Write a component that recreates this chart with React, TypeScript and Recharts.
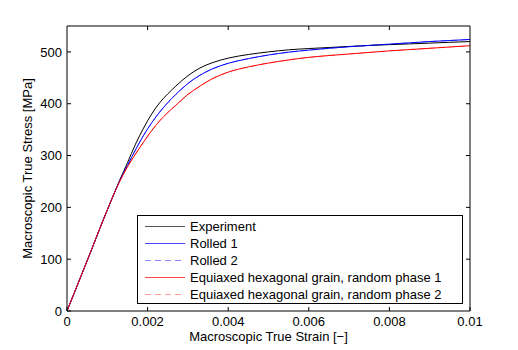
import { LineChart, Line, XAxis, YAxis } from "recharts";

// strain sample positions [-]
const strain = [
  0, 0.0005, 0.001, 0.0013, 0.0015, 0.0017, 0.0019, 0.0021, 0.0023, 0.0025, 0.0027,
  0.003, 0.0033, 0.0036, 0.004, 0.0045, 0.005, 0.0055, 0.006, 0.0065, 0.007,
  0.0075, 0.008, 0.0085, 0.009, 0.0095, 0.01,
];

// stress [MPa]
const experiment = [
  0, 97, 195, 251, 286, 322, 353, 380, 402, 419, 434,
  454, 469, 479, 488, 495, 500, 504, 506.5, 508.5, 510.5,
  512.5, 514, 515.5, 517, 518.5, 520,
];
const rolled1 = [
  0, 97, 195, 250, 281, 311, 339, 363, 384, 402, 418,
  439, 455, 467, 478, 487, 494, 499.5, 503.5, 507, 510,
  512.5, 515, 517.5, 520, 522, 524,
];
const rolled2 = [
  0, 97, 195, 250, 281, 311, 339, 363, 384, 402, 418,
  439, 455, 467, 478, 487, 494, 499.5, 503.5, 507, 510,
  512.5, 515, 517.5, 520, 522, 524,
];
const equiaxed1 = [
  0, 97, 195, 249, 278, 303, 326, 348, 367, 383, 397,
  418, 434, 448, 461, 471, 478.5, 484.5, 489.5, 493, 496,
  499, 502, 504.5, 507, 509.5, 512,
];
const equiaxed2 = [
  0, 97, 195, 249, 278, 303, 326, 348, 367, 383, 397,
  418, 434, 448, 461, 471, 478.5, 484.5, 489.5, 493, 496,
  499, 502, 504.5, 507, 509.5, 512,
];

const xTicks = [0, 0.002, 0.004, 0.006, 0.008, 0.01];
const yTicks = [0, 100, 200, 300, 400, 500];
const X_MAX = 0.01;
const Y_MAX = 550;

const legendItems = [
  { name: "Experiment", color: "#555555", dash: false },
  { name: "Rolled 1", color: "#4646ff", dash: false },
  { name: "Rolled 2", color: "#8c8cff", dash: true },
  { name: "Equiaxed hexagonal grain, random phase 1", color: "#ff4646", dash: false },
  { name: "Equiaxed hexagonal grain, random phase 2", color: "#ff9c9c", dash: true },
];

const data = strain.map((s, i) => ({
  strain: s,
  experiment: experiment[i],
  rolled1: rolled1[i],
  rolled2: rolled2[i],
  equiaxed1: equiaxed1[i],
  equiaxed2: equiaxed2[i],
}));

const W = 518;
const H = 350;
const M = { top: 26, right: 48, bottom: 39, left: 67 };
const PW = W - M.left - M.right;
const PH = H - M.top - M.bottom;

const font = "'Liberation Sans', Arial, Helvetica, sans-serif";
const tickStyle = { fontSize: 13, fill: "#000", fontFamily: font };

function fmtX(v: number) {
  return v === 0 ? "0" : String(Number(v.toFixed(3)));
}

function LegendBox() {
  return (
    <div
      style={{
        position: "absolute", left: 137, top: 215,
        border: "1px solid #000",
        background: "#fff",
        padding: "2px 0",
        fontFamily: font,
        fontSize: 13,
        color: "#000",
        boxSizing: "border-box",
        width: 326,
        height: 89,
      }}
    >
      {legendItems.map((it) => (
        <div key={it.name} style={{ height: 17, display: "flex", alignItems: "center" }}>
          <div
            style={{
              flex: "none", width: 40, height: 1, marginLeft: 7, marginRight: 5,
              background: it.dash
                ? `repeating-linear-gradient(to right, ${it.color} 0 6px, transparent 6px 10px)`
                : it.color,
            }}
          />
          <span style={{ whiteSpace: "nowrap", lineHeight: "17px" }}>{it.name}</span>
        </div>
      ))}
    </div>
  );
}

// top and right edges of the matlab-style box, with inward ticks at the same tick values
function BoxFrame() {
  const right = M.left + PW;
  const top = M.top;
  const sx = (v: number) => M.left + (v / X_MAX) * PW;
  const sy = (v: number) => M.top + PH - (v / Y_MAX) * PH;
  return (
    <svg width={W} height={H} style={{ position: "absolute", left: 0, top: 0, pointerEvents: "none" }}>
      <line x1={M.left} x2={right} y1={top} y2={top} stroke="#000" />
      <line x1={right} x2={right} y1={top} y2={top + PH} stroke="#000" />
      {xTicks.slice(1, -1).map((t) => (
        <line key={"tx" + t} x1={sx(t)} x2={sx(t)} y1={top} y2={top + 4} stroke="#000" />
      ))}
      {yTicks.slice(1).map((t) => (
        <line key={"ty" + t} x1={right} x2={right - 4} y1={sy(t)} y2={sy(t)} stroke="#000" />
      ))}
    </svg>
  );
}

export default function App() {
  return (
    <div style={{ position: "absolute", left: 0, top: 0, width: W, height: H, background: "#fff", fontFamily: font }}>
      <LineChart width={W} height={H} data={data} margin={{ top: M.top, right: M.right, bottom: 0, left: 0 }}>
        <XAxis
          dataKey="strain" type="number" domain={[0, X_MAX]} ticks={xTicks}
          tickFormatter={fmtX} height={M.bottom} tickSize={-4} tickMargin={10}
          stroke="#000" tick={tickStyle} allowDataOverflow
          label={{ value: "Macroscopic True Strain [\u2212]", position: "insideBottom", offset: 9, style: { fontSize: 13, fill: "#000", fontFamily: font } }}
        />
        <YAxis
          type="number" domain={[0, Y_MAX]} ticks={yTicks} width={M.left} tickSize={-4} tickMargin={9}
          stroke="#000" tick={tickStyle} allowDataOverflow
          label={{ value: "Macroscopic True Stress [MPa]", angle: -90, position: "center", dx: -6, style: { fontSize: 13, fill: "#000", fontFamily: font, textAnchor: "middle" } }}
        />
        {/* dashed twins sit underneath the solid ones */}
        <Line dataKey="rolled2" type="monotone" stroke="#8c8cff" strokeWidth={1} strokeDasharray="6 4" dot={false} isAnimationActive={false} />
        <Line dataKey="equiaxed2" type="monotone" stroke="#ff9c9c" strokeWidth={1} strokeDasharray="6 4" dot={false} isAnimationActive={false} />
        <Line dataKey="experiment" type="monotone" stroke="#000" strokeWidth={1} dot={false} isAnimationActive={false} />
        <Line dataKey="rolled1" type="monotone" stroke="#0000ff" strokeWidth={1} dot={false} isAnimationActive={false} />
        <Line dataKey="equiaxed1" type="monotone" stroke="#ff0000" strokeWidth={1} dot={false} isAnimationActive={false} />
      </LineChart>
      <BoxFrame />
      <LegendBox />
    </div>
  );
}
